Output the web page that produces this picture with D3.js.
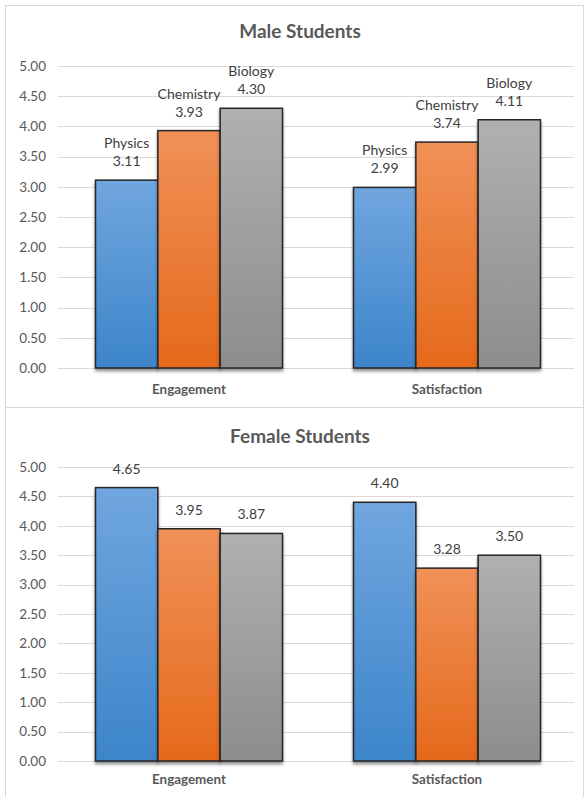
<!DOCTYPE html>
<html>
<head>
<meta charset="utf-8">
<script src="https://cdn.jsdelivr.net/npm/d3@7/dist/d3.min.js"></script>
<style>
  html, body { margin: 0; padding: 0; background: #fff; }
  svg { display: block; font-family: "Lato", "Open Sans", sans-serif; }
</style>
</head>
<body>
<svg id="chart" width="585" height="797"></svg>
<script>
// Survey scores by subject, per measure
const measures = ["Engagement", "Satisfaction"];
const subjects = ["Physics", "Chemistry", "Biology"];
const maleEngagement = [3.11, 3.93, 4.30];
const maleSatisfaction = [2.99, 3.74, 4.11];
const femaleEngagement = [4.65, 3.95, 3.87];
const femaleSatisfaction = [4.40, 3.28, 3.50];
const yTicks = [0, 0.5, 1, 1.5, 2, 2.5, 3, 3.5, 4, 4.5, 5];

const svg = d3.select("#chart");
const defs = svg.append("defs");

// Vertical gradients per subject (light at top, darker at base)
const palette = {
  Physics:   ["#70a6df", "#3d85ca"],
  Chemistry: ["#f19158", "#e5691b"],
  Biology:   ["#b0b0b0", "#8d8d8d"]
};
subjects.forEach(s => {
  const g = defs.append("linearGradient")
    .attr("id", "grad-" + s).attr("x1", 0).attr("y1", 0).attr("x2", 0).attr("y2", 1);
  g.append("stop").attr("offset", "0%").attr("stop-color", palette[s][0]);
  g.append("stop").attr("offset", "100%").attr("stop-color", palette[s][1]);
});

const shadow = defs.append("filter").attr("id", "barShadow")
  .attr("x", "-10%").attr("y", "-10%").attr("width", "120%").attr("height", "120%");
shadow.append("feDropShadow").attr("dx", 0).attr("dy", 2.5).attr("stdDeviation", 1.8)
  .attr("flood-color", "#000").attr("flood-opacity", 0.45);

const fmt = d3.format(".2f");

function drawPanel(cfg) {
  const g = svg.append("g");

  // panel frame
  g.append("rect")
    .attr("x", 5.5).attr("y", cfg.frameTop + 0.5)
    .attr("width", 578).attr("height", cfg.frameBottom - cfg.frameTop)
    .attr("fill", "#fff").attr("stroke", "#d9d9d9").attr("stroke-width", 1);

  g.append("text")
    .attr("x", 300).attr("y", cfg.titleY)
    .attr("text-anchor", "middle")
    .attr("font-size", 19).attr("font-weight", "bold").attr("fill", "#595959")
    .text(cfg.title);

  const y = d3.scaleLinear().domain([0, 5]).range([cfg.y0, cfg.y5]);
  const x0 = d3.scaleBand().domain(measures).range([60, 576]).paddingInner(0).paddingOuter(0);
  const groupW = x0.bandwidth() / 1.38;
  const x1 = d3.scaleBand().domain(subjects).range([0, groupW]).padding(0);

  // gridlines
  g.append("g").selectAll("line").data(yTicks).join("line")
    .attr("x1", 58).attr("x2", 574)
    .attr("y1", d => Math.round(y(d)) + 0.5).attr("y2", d => Math.round(y(d)) + 0.5)
    .attr("stroke", "#d9d9d9").attr("stroke-width", 1);

  // y axis labels
  const yAxis = d3.axisLeft(y).tickValues(yTicks).tickFormat(fmt).tickSize(0).tickPadding(0);
  const ya = g.append("g").attr("transform", "translate(46,0)").call(yAxis);
  ya.select(".domain").remove();
  ya.selectAll("text").attr("font-size", 13.5).attr("fill", "#595959")
    .attr("font-family", "Lato, 'Open Sans', sans-serif");

  // bars
  const groups = g.append("g").selectAll("g").data(cfg.data).join("g")
    .attr("transform", d => `translate(${x0(d.measure) + (x0.bandwidth() - groupW) / 2},0)`);

  groups.selectAll("rect").data(d => subjects.map((s, i) => ({ subject: s, value: d.values[i] })))
    .join("rect")
    .attr("x", d => x1(d.subject))
    .attr("y", d => y(d.value))
    .attr("width", x1.bandwidth())
    .attr("height", d => y(0) - y(d.value))
    .attr("fill", d => `url(#grad-${d.subject})`)
    .attr("stroke", "#262626").attr("stroke-width", 1.5)
    .attr("filter", "url(#barShadow)");

  // value labels
  const labels = groups.selectAll("text.lbl").data(d => subjects.map((s, i) => ({ subject: s, value: d.values[i] })))
    .join("text").attr("class", "lbl")
    .attr("text-anchor", "middle")
    .attr("font-size", 14).attr("fill", "#404040")
    .attr("x", d => x1(d.subject) + x1.bandwidth() / 2);
  if (cfg.named) {
    labels.append("tspan")
      .attr("x", d => x1(d.subject) + x1.bandwidth() / 2)
      .attr("y", d => y(d.value) - 32)
      .text(d => d.subject);
    labels.append("tspan")
      .attr("x", d => x1(d.subject) + x1.bandwidth() / 2)
      .attr("y", d => y(d.value) - 14)
      .text(d => fmt(d.value));
  } else {
    labels.attr("y", d => y(d.value) - 14).text(d => fmt(d.value));
  }

  // category labels
  g.append("g").selectAll("text").data(measures).join("text")
    .attr("x", d => x0(d) + x0.bandwidth() / 2)
    .attr("y", cfg.catY)
    .attr("text-anchor", "middle")
    .attr("font-size", 13.4).attr("font-weight", "bold").attr("fill", "#595959")
    .text(d => d);
}

drawPanel({
  title: "Male Students", frameTop: 5, frameBottom: 407, titleY: 38,
  y0: 368, y5: 66, catY: 394, named: true,
  data: [
    { measure: "Engagement", values: maleEngagement },
    { measure: "Satisfaction", values: maleSatisfaction }
  ]
});

drawPanel({
  title: "Female Students", frameTop: 407, frameBottom: 800, titleY: 443,
  y0: 761, y5: 467, catY: 784, named: false,
  data: [
    { measure: "Engagement", values: femaleEngagement },
    { measure: "Satisfaction", values: femaleSatisfaction }
  ]
});
</script>
</body>
</html>
